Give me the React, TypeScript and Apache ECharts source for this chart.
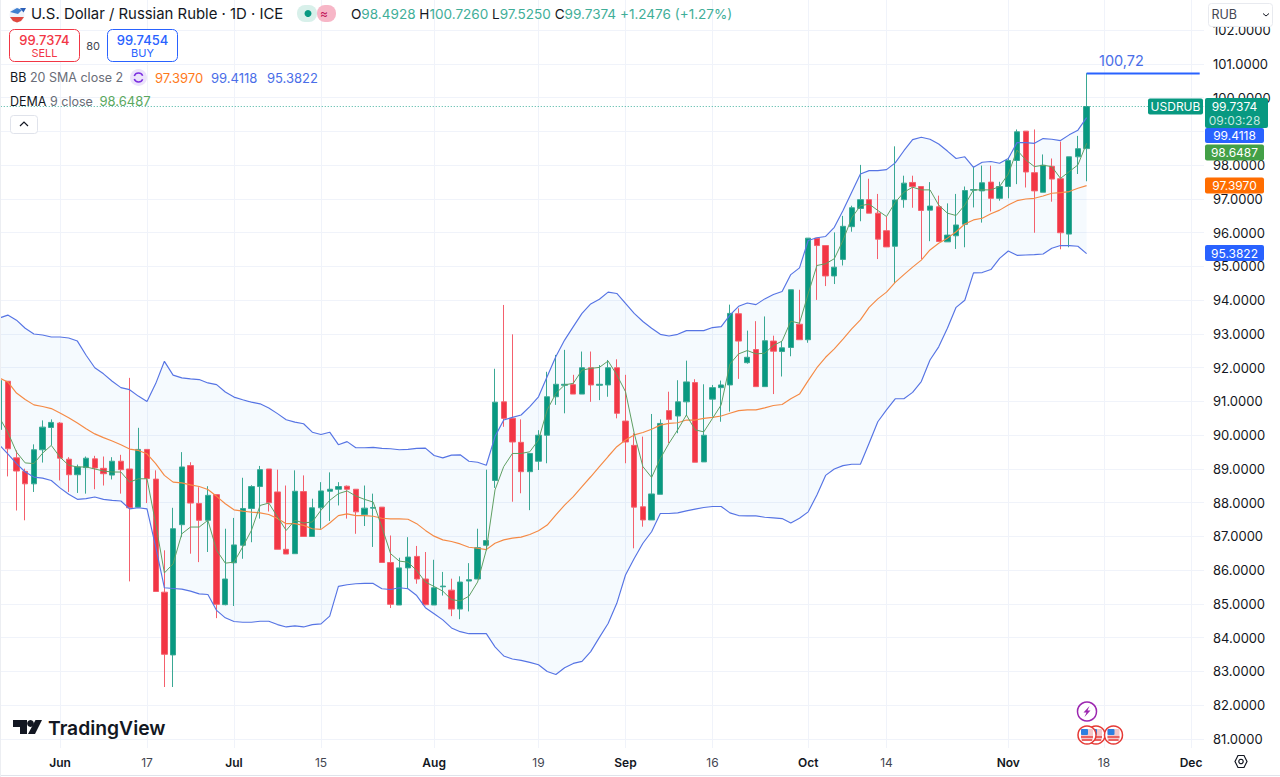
import React, { useEffect, useRef } from "react";
import * as echarts from "echarts";

const FONT = "Inter, 'Noto Sans', sans-serif";
const GREEN = "#089981";
const RED = "#F23645";
const BLUE = "#2962FF";
const ORANGE = "#FF6D00";
const DEMA_GREEN = "#43A047";
const TEXT = "#131722";

const categories = [
  "May 23","May 24","May 27","May 28","May 29","May 30","May 31",
  "Jun 3","Jun 4","Jun 5","Jun 6","Jun 7","Jun 10","Jun 11","Jun 12","Jun 13","Jun 14",
  "Jun 17","Jun 18","Jun 19","Jun 20","Jun 21","Jun 24","Jun 25","Jun 26","Jun 27","Jun 28",
  "Jul 1","Jul 2","Jul 3","Jul 4","Jul 5","Jul 8","Jul 9","Jul 10","Jul 11","Jul 12",
  "Jul 15","Jul 16","Jul 17","Jul 18","Jul 19","Jul 22","Jul 23","Jul 24","Jul 25","Jul 26",
  "Jul 29","Jul 30","Jul 31",
  "Aug 1","Aug 2","Aug 5","Aug 6","Aug 7","Aug 8","Aug 9","Aug 12","Aug 13","Aug 14","Aug 15","Aug 16",
  "Aug 19","Aug 20","Aug 21","Aug 22","Aug 23","Aug 26","Aug 27","Aug 28","Aug 29","Aug 30",
  "Sep 2","Sep 3","Sep 4","Sep 5","Sep 6","Sep 9","Sep 10","Sep 11","Sep 12","Sep 13",
  "Sep 16","Sep 17","Sep 18","Sep 19","Sep 20","Sep 23","Sep 24","Sep 25","Sep 26","Sep 27",
  "Sep 30",
  "Oct 1","Oct 2","Oct 3","Oct 4","Oct 7","Oct 8","Oct 9","Oct 10","Oct 11",
  "Oct 14","Oct 15","Oct 16","Oct 17","Oct 18","Oct 21","Oct 22","Oct 23","Oct 24","Oct 25",
  "Oct 28","Oct 29","Oct 30","Oct 31",
  "Nov 1","Nov 4","Nov 5","Nov 6","Nov 7","Nov 8","Nov 11","Nov 12","Nov 13","Nov 14","Nov 15",
  "Nov 18","Nov 19","Nov 20","Nov 21","Nov 22","Nov 25","Nov 26","Nov 27","Nov 28","Nov 29",
  "Dec 2","Dec 3",
];

const tickLabels: Record<string, string> = {
  "Jun 3": "Jun", "Jun 17": "17", "Jul 1": "Jul", "Jul 15": "15", "Aug 1": "Aug", "Aug 19": "19",
  "Sep 2": "Sep", "Sep 16": "16", "Oct 1": "Oct", "Oct 14": "14", "Nov 1": "Nov", "Nov 18": "18", "Dec 2": "Dec",
};
const monthLabels = ["Jun", "Jul", "Aug", "Sep", "Oct", "Nov", "Dec"];
const gridTicks = [81,82,83,84,85,86,87,88,89,90,91,92,93,94,95,96,97,98,99,100,101,102];
const priceLabels = [81,82,83,84,85,86,87,88,89,90,91,92,93,94,95,96,97,98,100,101,102];

const opens = [
  90.17,91.6,89.33,88.93,88.56,89.57,90.23,90.36,89.29,88.83,
  89.04,89.3,89.02,88.82,89.23,89.0,87.87,89.58,88.7,85.35,
  83.49,87.35,89.1,87.98,87.48,88.24,84.98,86.22,86.74,87.83,
  88.48,89.0,88.32,86.62,86.49,88.33,87.0,87.85,88.34,88.4,
  88.49,88.4,87.65,87.84,87.87,86.23,84.97,86.07,86.41,85.74,
  84.97,85.51,85.41,84.85,85.68,85.74,86.74,88.66,90.99,90.5,
  89.79,88.92,89.23,90.0,91.14,91.48,91.5,91.22,92.0,91.48,
  91.49,92.0,90.42,89.7,87.88,87.49,88.25,90.73,90.57,90.99,
  91.56,89.21,91.07,91.41,91.49,93.6,92.15,92.54,91.44,92.79,
  92.48,92.6,93.29,92.83,95.84,95.62,94.72,95.21,96.18,96.72,
  96.98,96.58,96.06,95.6,96.98,97.49,97.37,96.67,96.77,95.73,
  95.91,96.25,97.26,97.24,97.5,97.02,97.37,98.14,99.01,97.78,
  97.2,97.97,97.6,95.96,98.25,98.4928,
];
const closes = [
  91.62,89.6,88.94,88.56,89.57,90.24,90.38,89.32,88.83,89.06,
  89.32,89.03,88.86,89.23,88.98,87.85,89.58,88.72,85.37,83.51,
  87.23,89.06,87.99,87.48,88.22,84.99,85.74,86.75,87.83,88.48,
  88.98,88.0,86.62,86.48,88.34,87.0,87.85,88.35,88.4,88.48,
  88.4,87.73,87.84,87.86,86.23,84.99,86.07,86.39,85.74,84.98,
  85.48,85.53,84.85,85.65,85.72,86.67,86.88,90.98,90.5,89.8,
  88.92,89.46,90.0,91.14,91.51,91.51,91.22,92.0,91.49,91.51,
  92.0,90.65,89.8,87.87,87.49,88.26,90.35,90.47,90.99,91.58,
  89.2,90.0,91.41,91.49,93.61,92.79,92.31,91.44,92.8,92.49,
  92.59,94.31,92.83,95.84,95.62,94.72,94.98,96.19,96.74,96.98,
  96.58,95.81,95.58,96.97,97.47,97.37,96.66,96.79,95.74,95.93,
  96.23,97.25,97.28,97.48,97.02,97.37,98.14,98.99,97.8,97.24,
  98.0,97.59,96.0,98.25,98.49,99.7374,
];
const highs = [
  91.62,91.6,89.55,89.01,89.73,90.44,90.47,90.39,89.35,89.13,
  89.37,89.39,89.37,89.35,89.42,91.7,90.22,89.58,88.96,86.59,
  87.85,89.5,89.2,88.46,88.49,88.24,87.23,87.55,88.74,88.52,
  89.09,89.0,88.98,88.51,88.96,88.81,88.12,88.61,88.9,88.61,
  88.51,88.4,88.51,88.27,87.87,87.03,86.37,86.98,86.72,86.54,
  86.31,85.95,85.75,85.82,86.21,87.23,88.98,91.97,93.86,92.99,
  90.47,89.46,90.15,91.88,92.38,92.53,91.79,92.48,92.48,92.08,
  92.23,92.25,91.79,90.06,89.96,90.63,90.47,91.29,91.63,92.21,
  91.66,91.51,91.49,91.62,93.87,93.76,93.1,93.38,93.52,92.95,
  92.79,94.31,94.31,95.84,95.84,95.62,96.01,96.5,96.8,98.01,
  97.6,97.15,96.48,98.56,97.69,97.69,97.37,97.5,97.1,96.87,
  97.15,97.37,97.96,97.99,97.99,97.51,98.23,99.06,99.01,99.06,
  98.32,98.2,98.7,98.25,98.87,100.726,
];
const lows = [
  90.17,88.78,87.77,87.48,88.32,89.19,89.7,88.66,88.32,88.29,
  88.27,88.4,88.51,88.69,88.27,85.67,87.87,87.99,85.37,82.54,
  82.54,86.98,86.49,86.24,86.54,84.58,84.96,84.94,86.34,86.83,
  87.53,87.74,86.62,86.48,86.49,87.0,87.0,87.23,87.46,87.92,
  87.53,87.08,87.31,86.69,86.23,84.88,84.97,85.45,85.6,84.96,
  84.97,85.25,84.64,84.55,84.78,85.74,86.59,88.44,90.25,88.03,
  88.28,87.78,88.97,89.17,90.9,90.65,91.22,91.22,90.99,91.04,
  91.14,90.5,89.17,86.65,87.29,87.49,88.25,89.76,90.06,90.57,
  89.2,89.21,90.55,90.4,90.7,91.67,92.12,91.44,91.44,91.22,
  91.74,92.34,92.83,92.74,94.01,94.42,94.48,95.03,96.03,96.34,
  96.58,95.22,95.58,94.51,96.74,96.74,95.22,95.75,95.74,95.73,
  95.52,95.57,96.75,96.3,96.63,96.95,97.02,97.44,97.34,96.0,
  97.2,96.92,95.51,95.57,97.74,97.525,
];
const dema = [
  90.54,90.09,89.5,89.18,89.16,89.47,89.7,89.35,89.11,89.06,
  89.06,89.0,88.94,88.91,88.91,88.61,88.71,88.71,87.38,85.92,
  86.19,87.08,87.28,87.28,87.48,86.59,86.21,86.24,86.69,87.18,
  87.92,87.99,87.58,87.18,87.48,87.4,87.43,87.78,88.07,88.27,
  88.35,88.2,88.1,88.02,87.28,86.49,86.27,86.24,85.99,85.65,
  85.52,85.38,85.13,85.09,85.23,85.65,86.6,88.38,89.07,89.46,
  89.46,89.51,89.86,90.75,91.24,91.49,91.54,91.93,91.98,92.01,
  92.2,91.79,91.29,90.06,89.07,88.75,89.31,89.76,90.16,90.6,
  90.16,90.1,90.5,90.9,92.11,92.41,92.51,92.41,92.43,92.66,
  92.79,93.38,93.32,94.19,95.03,95.08,95.23,95.77,96.44,96.8,
  96.85,96.66,96.48,96.9,97.2,97.35,97.27,97.27,96.82,96.58,
  96.51,96.82,97.27,97.27,97.27,97.37,97.74,98.45,98.16,97.96,
  98.0,97.96,97.61,97.81,98.01,98.6487,
];
const bbUpper = [
  93.47,93.56,93.41,93.17,93.0,92.97,92.91,92.91,92.88,92.79,
  92.37,92.0,91.82,91.6,91.41,91.35,91.16,91.0,91.53,92.19,
  91.78,91.7,91.67,91.65,91.55,91.5,91.28,91.13,91.05,90.98,
  90.93,90.81,90.64,90.46,90.39,90.34,90.09,90.02,90.09,89.72,
  89.81,89.63,89.63,89.64,89.61,89.6,89.57,89.58,89.61,89.62,
  89.4,89.33,89.41,89.42,89.23,89.2,89.11,89.96,90.45,90.53,
  90.6,90.85,91.14,91.74,92.33,92.82,93.22,93.61,93.89,94.03,
  94.24,94.2,93.91,93.61,93.37,93.17,92.99,92.94,92.99,93.1,
  93.1,93.1,93.19,93.22,93.56,93.82,93.92,93.87,94.04,94.17,
  94.26,94.76,94.96,95.77,95.85,95.89,96.16,96.66,97.2,97.74,
  97.84,97.84,97.87,98.07,98.43,98.76,98.83,98.77,98.63,98.42,
  98.2,98.25,97.94,98.09,98.11,98.06,98.2,98.67,98.67,98.65,
  98.79,98.77,98.73,98.9,99.04,99.4118,
];
const bbBasis = [
  91.7,91.58,91.25,91.06,90.9,90.85,90.79,90.66,90.52,90.36,
  90.19,90.04,89.93,89.83,89.72,89.59,89.55,89.45,89.16,88.81,
  88.61,88.59,88.53,88.48,88.39,88.19,87.97,87.79,87.75,87.72,
  87.7,87.65,87.53,87.38,87.38,87.33,87.23,87.21,87.4,87.62,
  87.67,87.62,87.62,87.6,87.54,87.52,87.52,87.51,87.38,87.18,
  87.01,86.9,86.85,86.78,86.68,86.65,86.61,86.8,86.9,86.95,
  86.98,87.06,87.17,87.34,87.64,87.93,88.18,88.48,88.77,89.07,
  89.37,89.66,89.86,90.01,90.08,90.18,90.3,90.35,90.37,90.45,
  90.45,90.5,90.53,90.57,90.65,90.73,90.75,90.75,90.81,90.88,
  90.91,91.08,91.22,91.62,92.0,92.31,92.56,92.85,93.15,93.42,
  93.79,94.04,94.24,94.53,94.76,94.98,95.19,95.49,95.69,95.84,
  96.03,96.26,96.38,96.43,96.56,96.67,96.82,96.95,97.0,97.02,
  97.09,97.17,97.19,97.22,97.32,97.397,
];
const bbLower = [
  89.72,89.45,89.16,88.91,88.76,88.73,88.66,88.44,88.25,88.1,
  88.12,88.17,88.1,88.07,88.05,87.82,87.85,87.82,86.69,85.48,
  85.46,85.44,85.38,85.3,85.28,84.81,84.59,84.48,84.46,84.46,
  84.49,84.49,84.39,84.32,84.35,84.32,84.39,84.41,84.64,85.52,
  85.57,85.6,85.61,85.61,85.45,85.43,85.48,85.45,85.25,84.89,
  84.71,84.53,84.29,84.18,84.12,84.12,84.12,83.73,83.46,83.37,
  83.33,83.27,83.2,83.0,82.91,83.11,83.24,83.3,83.59,84.01,
  84.42,85.02,85.86,86.35,86.8,87.14,87.68,87.68,87.7,87.76,
  87.81,87.86,87.89,87.89,87.7,87.62,87.61,87.61,87.57,87.55,
  87.53,87.4,87.54,87.73,88.23,88.81,89.0,89.1,89.14,89.14,
  89.76,90.4,90.75,91.08,91.08,91.27,91.59,92.23,92.62,93.17,
  93.79,94.0,94.81,94.82,94.91,95.24,95.46,95.33,95.34,95.35,
  95.37,95.54,95.62,95.62,95.6,95.3822,
];
const lastPrice = 99.7374;
const sessionHigh = 100.72;
const lastBar = opens.length - 1;

const candleData = opens.map((o, i) => [o, closes[i], lows[i], highs[i]]);
const highLevel = categories.map((_, i) => (i >= lastBar ? sessionHigh : null));

// The chart's box starts 6px left of the page so that the first, half-hidden candle can be clipped.
const PAGE_SHIFT = 6;

const txt = (text: string, x: number, y: number, fill: string, fontSize = 13, extra: any = {}) => ({
  type: "text", z: 60, silent: true,
  style: { text, x, y, fill, fontSize, fontFamily: FONT, verticalAlign: "middle", textAlign: "left", ...extra },
});
const box = (x: number, y: number, width: number, height: number, fill: string, r = 2, stroke?: string, z = 55) => ({
  type: "rect", z, silent: true,
  shape: { x, y, width, height, r },
  style: { fill, stroke: stroke || undefined, lineWidth: stroke ? 1 : 0 },
});
const tag = (label: string, y: number, h: number, fill: string) => [
  box(1205, y, 59, h, fill, 2),
  txt(label, 1234.5, y + h / 2, "#ffffff", 12, { textAlign: "center" }),
];
const flag = (cx: number, cy: number) => [
  { type: "circle", z: 58, silent: true, shape: { cx, cy, r: 9 }, style: { fill: "#fff", stroke: "#E53935", lineWidth: 1.5 } },
  box(cx - 6, cy - 6, 12, 12, "#f4c7c9", 1, undefined, 58),
  { type: "line", z: 58, silent: true, shape: { x1: cx - 6, y1: cy + 2, x2: cx + 6, y2: cy + 2 }, style: { stroke: "#E53935", lineWidth: 1.4 } },
  { type: "line", z: 58, silent: true, shape: { x1: cx - 5, y1: cy + 5, x2: cx + 5, y2: cy + 5 }, style: { stroke: "#E53935", lineWidth: 1.4 } },
  box(cx - 6, cy - 6, 7, 6, "#2d7fe0", 1, undefined, 58),
];

const overlay: any[] = [
  { type: "line", z: 50, silent: true, shape: { x1: 0, y1: 775.5, x2: 1280, y2: 775.5 }, style: { stroke: "#e0e3eb", lineWidth: 1 } },
  { type: "line", z: 50, silent: true, shape: { x1: 0.5, y1: 0, x2: 0.5, y2: 777 }, style: { stroke: "#eceef2", lineWidth: 1 } },

  { type: "circle", z: 60, silent: true, shape: { cx: 17, cy: 15, r: 7.5 }, style: { fill: "#f0f3fa" } },
  { type: "polygon", z: 61, silent: true, shape: { points: [[10, 12], [17, 8], [22, 10], [18, 14]] }, style: { fill: "#3f7fd0" } },
  { type: "polygon", z: 61, silent: true, shape: { points: [[20, 8], [26, 8], [23.5, 12.5]] }, style: { fill: "#2b5fb8" } },
  { type: "polygon", z: 61, silent: true, shape: { points: [[10, 17], [24, 17], [21, 21], [17, 22.5], [13, 21]] }, style: { fill: "#e0483f" } },

  txt("U.S. Dollar / Russian Ruble · 1D · ICE", 31, 14, TEXT, 14.9),

  box(297, 5, 20, 17, "#d8f0ea", 8, undefined, 55),
  box(317, 5, 19, 17, "#f7b6c7", 8, undefined, 55),
  { type: "circle", z: 60, silent: true, shape: { cx: 308, cy: 13.5, r: 3.5 }, style: { fill: GREEN } },
  txt("≈", 324, 13.5, "#c2185b", 12, { textAlign: "center" }),

  {
    type: "text", z: 60, silent: true,
    style: {
      x: 351, y: 14, verticalAlign: "middle", fontFamily: FONT, fontSize: 13.55, fill: "#3fae98",
      text: "{k|O}98.4928 {k|H}100.7260 {k|L}97.5250 {k|C}99.7374 +1.2476 (+1.27%)",
      rich: { k: { fill: TEXT, fontFamily: FONT, fontSize: 13.55 } },
    },
  },

  box(9.5, 29.5, 70, 32, "#fff", 5, RED),
  txt("99.7374", 44.5, 40, RED, 13, { textAlign: "center", fontWeight: 500 }),
  txt("SELL", 44.5, 53, RED, 11, { textAlign: "center" }),
  txt("80", 93, 45.5, "#434651", 11, { textAlign: "center" }),
  box(107.5, 29.5, 70, 32, "#fff", 5, BLUE),
  txt("99.7454", 142.5, 40, BLUE, 13, { textAlign: "center", fontWeight: 500 }),
  txt("BUY", 142.5, 53, BLUE, 11, { textAlign: "center" }),

  txt("BB", 10, 77.5, TEXT, 12.5),
  txt("20 SMA close 2", 30, 77.5, "#6a6d78", 12.5),
  { type: "circle", z: 60, silent: true, shape: { cx: 138.5, cy: 77.5, r: 8.5 }, style: { fill: "#ece3fb" } },
  { type: "arc", z: 61, silent: true, shape: { cx: 138.5, cy: 77.5, r: 4.5, startAngle: 3.5, endAngle: 5.9 }, style: { stroke: "#7b2fe0", fill: "none", lineWidth: 1.5 } },
  { type: "arc", z: 61, silent: true, shape: { cx: 138.5, cy: 77.5, r: 4.5, startAngle: 0.4, endAngle: 2.8 }, style: { stroke: "#7b2fe0", fill: "none", lineWidth: 1.5 } },
  txt("97.3970", 155, 77.5, "#FF7A1A", 13),
  txt("99.4118", 211, 77.5, "#4a6ee8", 13),
  txt("95.3822", 267, 77.5, "#4a6ee8", 13),

  txt("DEMA", 10, 101, TEXT, 12.5),
  txt("9 close", 50, 101, "#6a6d78", 12.5),
  txt("98.6487", 99.5, 101, "#5aa85e", 13),

  box(10.5, 115.5, 27, 18, "#fff", 3, "#e0e3eb"),
  { type: "polyline", z: 60, silent: true, shape: { points: [[20, 126], [24, 122], [28, 126]] }, style: { stroke: TEXT, fill: "none", lineWidth: 1.2 } },

  box(1208.5, 3.5, 64, 23, "#fff", 3, "#e8eaef"),
  txt("RUB", 1211.5, 14.5, "#434651", 12.5),
  { type: "polyline", z: 60, silent: true, shape: { points: [[1263, 13.5], [1266, 16], [1269, 13.5]] }, style: { stroke: TEXT, fill: "none", lineWidth: 1 } },

  txt("100,72", 1099, 60, "#4a6ee8", 14.5),

  box(1148, 98.5, 55, 16, GREEN, 2),
  txt("USDRUB", 1175.5, 106.5, "#ffffff", 12, { textAlign: "center" }),
  box(1205, 98, 63, 30, GREEN, 2),
  txt("99.7374", 1234.5, 106, "#ffffff", 12, { textAlign: "center" }),
  txt("09:03:28", 1234.5, 120, "#c4e8e0", 12, { textAlign: "center" }),
  ...tag("99.4118", 128, 15, BLUE),
  ...tag("98.6487", 144.5, 16, DEMA_GREEN),
  ...tag("97.3970", 177.5, 16, ORANGE),
  ...tag("95.3822", 245, 16, BLUE),

  { type: "polygon", z: 60, silent: true, shape: { points: [[13, 720], [27, 720], [27, 734], [20, 734], [20, 727], [13, 727]] }, style: { fill: TEXT } },
  { type: "circle", z: 60, silent: true, shape: { cx: 30.5, cy: 723.5, r: 3.4 }, style: { fill: TEXT } },
  { type: "polygon", z: 60, silent: true, shape: { points: [[35.5, 720], [42, 720], [35, 734], [28, 734]] }, style: { fill: TEXT } },
  txt("TradingView", 48, 727.5, TEXT, 19.3, { fontWeight: 600 }),

  { type: "circle", z: 58, silent: true, shape: { cx: 1087, cy: 711.5, r: 9.5 }, style: { fill: "#fff", stroke: "#9C27B0", lineWidth: 1.5 } },
  { type: "polygon", z: 59, silent: true, shape: { points: [[1089.5, 706], [1083.5, 712.5], [1086.5, 712.5], [1084.5, 717], [1090.5, 710.5], [1087.5, 710.5]] }, style: { fill: "#9C27B0" } },
  ...flag(1096, 735),
  ...flag(1087, 735),
  ...flag(1113.5, 735),

  { type: "polygon", z: 60, silent: true, shape: { points: [[1235, 761.5], [1238, 755.5], [1244, 755.5], [1247, 761.5], [1244, 767.5], [1238, 767.5]] }, style: { fill: "none", stroke: TEXT, lineWidth: 1.2 } },
  { type: "circle", z: 60, silent: true, shape: { cx: 1241, cy: 761.5, r: 2.2 }, style: { fill: "none", stroke: TEXT, lineWidth: 1.2 } },
];

const line = (name: string, data: number[], color: string, width = 1.15) => ({
  name, type: "line", data, symbol: "none", silent: true, z: 5,
  lineStyle: { color, width }, itemStyle: { color },
});

export default function App() {
  const ref = useRef<HTMLDivElement>(null);
  useEffect(() => {
    if (!ref.current) return;
    const chart = echarts.init(ref.current, undefined, { renderer: "svg" });
    chart.setOption({
      animation: false,
      backgroundColor: "#ffffff",
      textStyle: { fontFamily: FONT },
      grid: { left: PAGE_SHIFT - 5.25, width: 1209.3, top: 0, height: 748, containLabel: false },
      xAxis: {
        type: "category",
        data: categories,
        axisLine: { show: false },
        axisTick: { show: false },
        splitLine: {
          show: true,
          alignWithLabel: true,
          interval: (_: number, v: string) => v in tickLabels,
          lineStyle: { color: "#f0f3fa", width: 1 },
        },
        axisLabel: {
          interval: (_: number, v: string) => v in tickLabels,
          margin: 8,
          hideOverlap: false,
          formatter: (v: string) => {
            const t = tickLabels[v];
            if (!t) return "";
            return monthLabels.includes(t) ? `{m|${t}}` : `{d|${t}}`;
          },
          rich: {
            m: { fontFamily: FONT, fontSize: 12, fontWeight: 600, color: TEXT },
            d: { fontFamily: FONT, fontSize: 12, color: "#434651" },
          },
        },
      },
      yAxis: {
        type: "value",
        position: "right",
        min: 80.733,
        max: 102.896,
        scale: true,
        axisLine: { show: false },
        axisTick: { show: false, customValues: gridTicks },
        splitLine: { show: true, lineStyle: { color: "#f0f3fa", width: 1 } },
        axisLabel: {
          customValues: priceLabels,
          margin: 9,
          align: "left",
          color: "#131722",
          fontFamily: FONT,
          fontSize: 13,
          formatter: (v: number) => v.toFixed(4),
        },
      },
      graphic: { elements: [{ type: "group", x: PAGE_SHIFT, y: 0, children: overlay }] },
      series: [
        {
          name: "BB band",
          type: "custom",
          silent: true,
          z: 1,
          data: [[0, bbUpper[0]]],
          encode: { x: 0, y: 1 },
          renderItem: (_: any, api: any) => ({
            type: "polygon",
            shape: {
              points: [
                ...bbUpper.map((v, i) => api.coord([i, v])),
                ...bbLower.map((v, i) => api.coord([i, v])).reverse(),
              ],
            },
            style: { fill: "rgba(33,150,243,0.045)", stroke: "none" },
          }),
        },
        {
          name: "USDRUB",
          type: "candlestick",
          z: 3,
          barWidth: 5.8,
          silent: true,
          data: candleData,
          itemStyle: { color: GREEN, color0: RED, borderColor: "#3aa894", borderColor0: "#f4606d", borderWidth: 1 },
          markLine: {
            silent: true,
            symbol: "none",
            label: { show: false },
            lineStyle: { color: GREEN, type: [1, 2], width: 1, opacity: 0.75 },
            data: [{ yAxis: lastPrice }],
          },
        },
        line("BB upper", bbUpper, "#5674e4"),
        line("BB basis", bbBasis, "#F58A45"),
        line("BB lower", bbLower, "#5674e4"),
        line("DEMA", dema, "#5f9f63", 1),
        line("Session high", highLevel as number[], BLUE, 2),
      ],
    });
    return () => chart.dispose();
  }, []);
  return <div ref={ref} style={{ position: "fixed", left: -PAGE_SHIFT, top: 0, width: 1280 + PAGE_SHIFT, height: 777 }} />;
}
